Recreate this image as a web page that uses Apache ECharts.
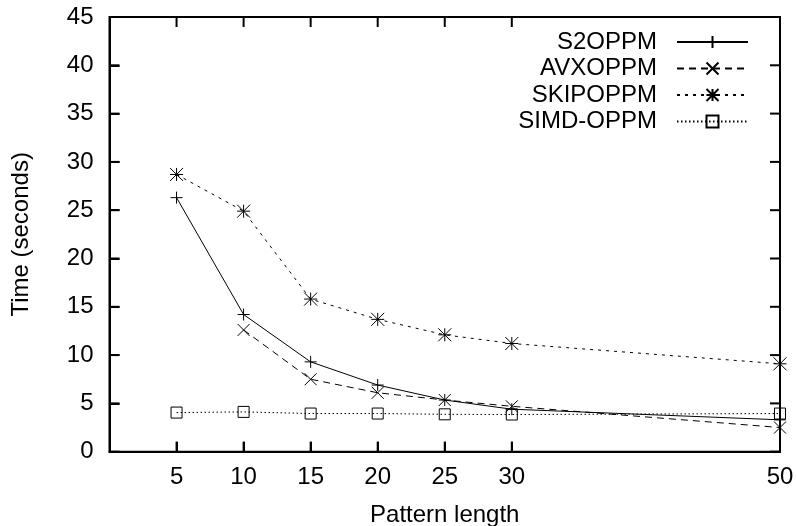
<!DOCTYPE html>
<html>
<head>
<meta charset="utf-8">
<script src="https://cdn.jsdelivr.net/npm/echarts@6/dist/echarts.min.js"></script>
<style>
html,body{margin:0;padding:0;background:#fff;}
#chart{width:797px;height:526px;}
</style>
</head>
<body>
<div id="chart"></div>
<script>
// ---- data ----
var patternLengths = [5, 10, 15, 20, 25, 30, 50];
var xTickValues = [5, 10, 15, 20, 25, 30, 50];
var yTickValues = [0, 5, 10, 15, 20, 25, 30, 35, 40, 45];
var s2oppm   = [26.3, 14.2, 9.3, 6.9, 5.35, 4.4, 3.3];
var avxoppm  = [null, 12.6, 7.5, 6.1, 5.35, 4.7, 2.5];
var skipoppm = [28.7, 24.9, 15.8, 13.7, 12.1, 11.2, 9.1];
var simdoppm = [4.05, 4.12, 3.95, 3.95, 3.87, 3.85, 3.95];
var seriesNames = ['S2OPPM', 'AVXOPPM', 'SKIPOPPM', 'SIMD-OPPM'];

var X_MIN = 0, X_MAX = 50, Y_MIN = 0, Y_MAX = 45, TICK_LEN = 10;

function pairs(vals) {
  var out = [];
  for (var i = 0; i < patternLengths.length; i++) {
    if (vals[i] !== null) out.push([patternLengths[i], vals[i]]);
  }
  return out;
}

var FONT = 'Liberation Sans, Arial, Helvetica, sans-serif';
var PLUS = 'path://M5,0L5,10M0,5L10,5';
var CROSS = 'path://M0,0L10,10M10,0L0,10';
var STAR = 'path://M5,0L5,10M0,5L10,5M0,0L10,10M10,0L0,10';

function mkSeries(name, vals, symbol, size, dash) {
  return {
    name: name,
    type: 'line',
    data: pairs(vals),
    symbol: symbol,
    symbolSize: size,
    clip: false,
    lineStyle: { color: '#000', width: 1, type: dash },
    itemStyle: { color: 'rgba(0,0,0,0)', borderColor: '#000', borderWidth: 1 },
    emphasis: { disabled: true }
  };
}

var tickStyle = { show: true, inside: true, length: TICK_LEN, lineStyle: { color: '#000', width: 2 } };

var option = {
  animation: false,
  grid: { left: 109.5, right: 17, top: 17, bottom: 74.3, outerBoundsMode: 'none', containLabel: false,
          show: true, borderColor: '#000', borderWidth: 2, backgroundColor: 'transparent' },
  legend: {
    data: seriesNames,
    orient: 'vertical',
    align: 'right',
    right: 48,
    top: 30,
    padding: 0,
    itemWidth: 71,
    itemHeight: 15,
    itemGap: 2.5,
    textStyle: { fontSize: 24, color: '#000', fontFamily: FONT, padding: [0, 15, 0, 0] }
  },
  xAxis: {
    type: 'value',
    min: X_MIN, max: X_MAX,
    name: 'Pattern length',
    nameLocation: 'middle',
    nameGap: 52,
    nameMoveOverlap: false,
    nameTextStyle: { fontSize: 24, color: '#000', fontFamily: FONT },
    axisLine: { onZero: false, lineStyle: { color: '#000', width: 2 } },
    axisTick: { show: true, inside: true, length: TICK_LEN, customValues: xTickValues, lineStyle: { color: '#000', width: 2 } },
    axisLabel: { customValues: xTickValues, fontSize: 24, color: '#000', fontFamily: FONT, margin: 14 },
    splitLine: { show: false }
  },
  yAxis: {
    type: 'value',
    min: Y_MIN, max: Y_MAX, interval: 5,
    name: 'Time (seconds)',
    nameLocation: 'middle',
    nameGap: 76,
    nameTextStyle: { fontSize: 24, color: '#000', fontFamily: FONT },
    axisLine: { onZero: false, lineStyle: { color: '#000', width: 2 } },
    axisTick: tickStyle,
    axisLabel: { fontSize: 24, color: '#000', fontFamily: FONT, margin: 16 },
    splitLine: { show: false }
  },
  series: [
    mkSeries('S2OPPM', s2oppm, PLUS, 12, 'solid'),
    mkSeries('AVXOPPM', avxoppm, CROSS, 12, [7, 5]),
    mkSeries('SKIPOPPM', skipoppm, STAR, 13, [3, 5]),
    mkSeries('SIMD-OPPM', simdoppm, 'rect', 11, [1.5, 2.5])
  ]
};

var chart = echarts.init(document.getElementById('chart'));
chart.setOption(option);

// gnuplot-style mirrored inward ticks, positioned through the chart's own scales
function buildTicks() {
  var els = [];
  function seg(x1, y1, x2, y2) {
    els.push({ type: 'line', z: 100, silent: true,
      shape: { x1: x1, y1: y1, x2: x2, y2: y2 },
      style: { stroke: '#000', lineWidth: 2 } });
  }
  xTickValues.forEach(function (v) {
    var a = chart.convertToPixel({ gridIndex: 0 }, [v, Y_MIN]);
    var b = chart.convertToPixel({ gridIndex: 0 }, [v, Y_MAX]);
    seg(a[0], a[1], a[0], a[1] - TICK_LEN);
    seg(b[0], b[1], b[0], b[1] + TICK_LEN);
  });
  yTickValues.forEach(function (v) {
    var a = chart.convertToPixel({ gridIndex: 0 }, [X_MIN, v]);
    var b = chart.convertToPixel({ gridIndex: 0 }, [X_MAX, v]);
    seg(a[0], a[1], a[0] + TICK_LEN, a[1]);
    seg(b[0], b[1], b[0] - TICK_LEN, b[1]);
  });
  chart.setOption({ graphic: { elements: els } });
}
buildTicks();
</script>
</body>
</html>
